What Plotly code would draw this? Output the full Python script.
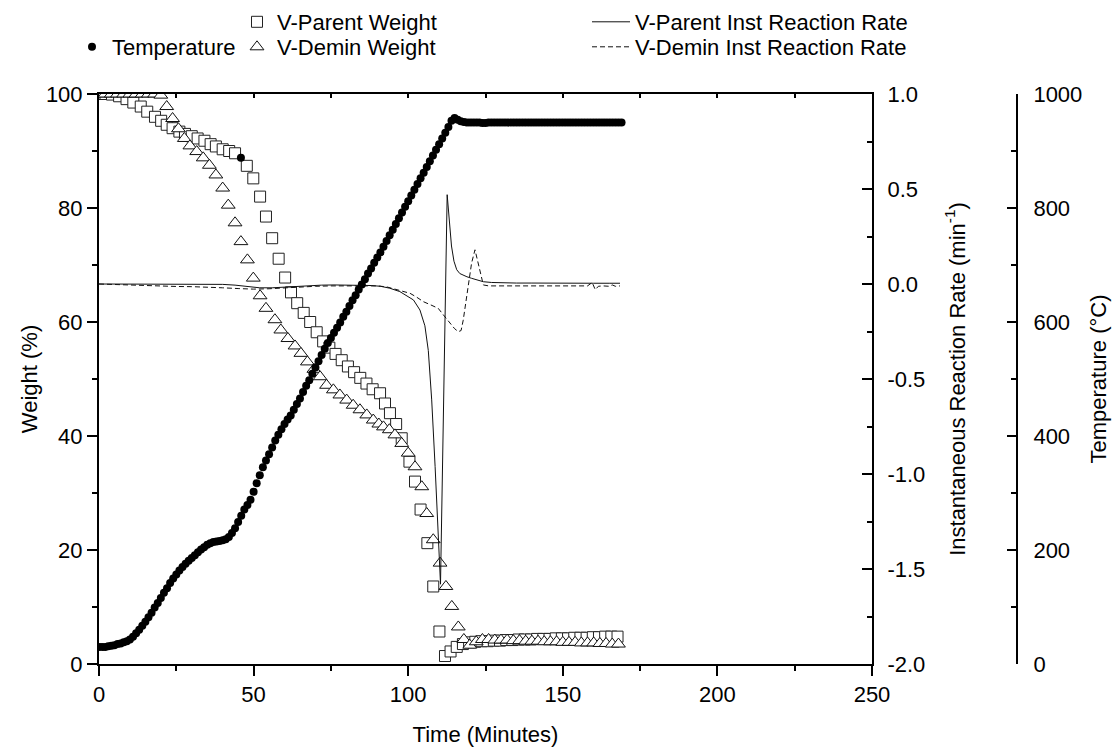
import plotly.graph_objects as go

# ---------------- data ----------------
temp_time = list(range(0, 170))
temp_values = [
    30, 30, 30, 31, 32, 33, 35, 36, 38, 40,
    43, 48, 54, 60, 67, 74, 82, 90, 99, 107,
    116, 125, 133, 142, 150, 157, 164, 170, 176, 181,
    186, 191, 196, 201, 205, 209, 212, 214, 215, 216,
    217, 219, 223, 230, 238, 249, 260, 271, 279, 288,
    302, 317, 331, 345, 357, 368, 380, 392, 402, 412,
    421, 429, 436, 446, 456, 466, 477, 488, 498, 509,
    520, 531, 542, 553, 563, 572, 581, 590, 599, 609,
    618, 628, 638, 647, 657, 666, 675, 685, 694, 704,
    713, 722, 732, 742, 752, 762, 772, 782, 792, 802,
    812, 822, 832, 842, 852, 862, 872, 882, 892, 902,
    912, 922, 932, 942, 953, 958, 955, 952, 951, 950,
    950, 950, 950, 950, 949, 949, 950, 950, 950, 950,
    950, 950, 950, 950, 950, 950, 950, 950, 950, 950,
    950, 950, 950, 950, 950, 950, 950, 950, 950, 950,
    950, 950, 950, 950, 950, 950, 950, 950, 950, 950,
    950, 950, 950, 950, 950, 950, 950, 950, 950, 950,
]

# a single filled point seen near the parent-weight squares
odd_point_time = [45.9]
odd_point_weight = [88.8]

parent_time = [
    0, 2.1, 4.2, 6.5, 8.9, 11.1, 13.5, 15.6, 18.1, 20.1,
    21.9, 23.8, 26.0, 27.8, 30.0, 31.9, 34.1, 36.1, 37.8, 40.0,
    42.1, 44.0, 47.8, 49.9, 52.1, 54.0, 56.0, 58.1, 60.2, 62.1,
    64.1, 66.2, 68.3, 70.4, 72.5, 74.5, 76.5, 78.5, 80.5, 82.5,
    84.5, 86.5, 88.5, 90.9, 92.5, 94.1, 96.1, 97.9, 100.4, 102.2,
    104.0, 106.2, 108.1, 110.1, 111.9, 113.7, 115.7, 117.7, 119.7, 121.7,
    123.7, 125.7, 127.7, 129.7, 131.7, 133.7, 135.7, 137.7, 139.7, 141.7,
    143.7, 145.7, 147.7, 149.7, 151.7, 153.7, 155.7, 157.7, 159.7, 161.7,
    163.7, 165.7, 167.7,
]
parent_weight = [
    100, 100, 99.9, 99.6, 99.1, 98.5, 97.8, 96.9, 96.0, 95.3,
    94.6, 94.0, 93.4, 93.0, 92.6, 92.2, 91.8, 91.2, 90.8, 90.3,
    90.0, 89.6, 87.4, 85.2, 82.0, 78.5, 74.7, 71.1, 67.8, 65.2,
    63.3, 61.6, 60.0, 58.2, 56.6, 55.5, 54.4, 53.3, 52.2, 51.2,
    50.2, 49.2, 48.2, 47.5, 45.7, 44.0, 42.1, 39.6, 35.5, 32.0,
    27.1, 21.2, 13.6, 5.7, 1.4, 2.2, 3.0, 3.5, 3.8, 3.9,
    4.0, 4.0, 4.1, 4.1, 4.2, 4.2, 4.3, 4.3, 4.3, 4.4,
    4.4, 4.4, 4.5, 4.5, 4.5, 4.6, 4.6, 4.6, 4.7, 4.7,
    4.8, 4.8, 4.8,
]

demin_time = [
    0, 2, 4, 6, 8, 10, 12, 14, 16, 18,
    20, 21.9, 23.8, 25.7, 27.6, 29.4, 31.6, 33.7, 35.7, 37.8,
    40.0, 41.8, 44.0, 45.9, 48.0, 49.9, 52.1, 54.0, 56.9, 58.8,
    61.1, 63.4, 65.3, 67.4, 69.5, 71.5, 73.6, 75.8, 77.9, 80.1,
    82.2, 84.4, 86.6, 88.7, 90.5, 92.0, 93.9, 95.7, 97.9, 100.0,
    102.2, 104.4, 106.0, 108.1, 110.3, 112.2, 114.1, 116.2, 118.0, 119.9,
    122.0, 124.0, 126.0, 128.0, 130.0, 132.0, 134.0, 136.0, 138.0, 140.0,
    142.0, 144.0, 146.0, 148.0, 150.0, 152.0, 154.0, 156.0, 158.0, 160.0,
    162.0, 164.0, 166.0, 168.0,
]
demin_weight = [
    100, 100, 100, 100, 100, 100, 100, 100, 100, 100,
    99.8, 97.8, 95.7, 93.9, 92.2, 90.9, 89.9, 88.8, 87.5, 85.8,
    83.5, 80.5, 77.4, 74.1, 70.9, 67.7, 64.6, 62.4, 60.4, 58.6,
    57.1, 55.8, 54.5, 53.0, 51.7, 50.4, 48.9, 48.1, 47.2, 46.3,
    45.4, 44.6, 43.7, 42.8, 42.1, 41.6, 41.1, 40.2, 38.7, 37.0,
    34.6, 31.1, 26.4, 21.8, 17.7, 13.6, 10.1, 6.5, 4.3, 3.3,
    3.9, 4.3, 4.3, 4.2, 4.2, 4.2, 4.1, 4.1, 4.0, 4.0,
    4.0, 3.9, 3.9, 3.9, 3.8, 3.8, 3.8, 3.7, 3.7, 3.7,
    3.6, 3.6, 3.5, 3.5,
]

parent_rate_time = [
    0, 5, 10, 15, 20, 25, 30, 35, 40, 44,
    48, 52, 56, 60, 64, 68, 72, 76, 80, 84,
    88, 91, 94, 97.3, 99.5, 101.7, 103.8, 105.4, 106.5, 107.6,
    108.7, 109.7, 110.45, 112.6, 113.3, 114.0, 114.8, 115.7, 116.7, 117.8,
    119.0, 120.5, 122.2, 124.3, 127, 130, 135, 140, 145, 150,
    155, 160, 165, 168.5,
]
parent_rate = [
    0.0, 0.0, 0.0, 0.0, 0.0, 0.0, 0.0, 0.0, -0.002, -0.006,
    -0.014, -0.02, -0.02, -0.016, -0.011, -0.008, -0.006, -0.005, -0.005, -0.005,
    -0.008, -0.012, -0.022, -0.04, -0.06, -0.084, -0.137, -0.22, -0.35, -0.61,
    -0.96, -1.31, -1.58, 0.47, 0.33, 0.2, 0.12, 0.075, 0.055, 0.045,
    0.038, 0.03, 0.022, 0.012, 0.008, 0.006, 0.005, 0.005, 0.004, 0.004,
    0.004, 0.004, 0.004, 0.004,
]

demin_rate_time = [
    0, 5, 10, 15, 20, 25, 30, 35, 40, 45,
    50, 55, 60, 65, 70, 75, 80, 85, 90, 93,
    96.3, 98.5, 100.6, 102.8, 104.9, 107.3, 109.7, 111.4, 113.5, 115.0,
    116.2, 117.1, 117.8, 118.7, 119.4, 120.5, 121.6, 122.4, 123.2, 124.3,
    126, 130, 135, 140, 145, 150, 155, 158, 159.5, 160.5,
    161.5, 163, 165, 166, 167, 168.5,
]
demin_rate = [
    0.0, -0.003, -0.006, -0.01, -0.012, -0.013, -0.014, -0.016, -0.02, -0.024,
    -0.027, -0.025, -0.02, -0.015, -0.012, -0.01, -0.01, -0.01, -0.01, -0.015,
    -0.028, -0.038, -0.049, -0.07, -0.093, -0.11, -0.128, -0.163, -0.207, -0.235,
    -0.251, -0.245, -0.19, -0.084, 0.0, 0.11, 0.18, 0.126, 0.056, -0.005,
    -0.01, -0.01, -0.01, -0.01, -0.01, -0.012, -0.012, -0.01, 0.008, -0.03,
    -0.012, -0.01, -0.012, -0.005, -0.012, -0.01,
]

x_ticks = [0, 50, 100, 150, 200, 250]
x_ticktext = ["0", "50", "100", "150", "200", "250"]
w_ticks = [0, 20, 40, 60, 80, 100]
w_ticktext = ["0", "20", "40", "60", "80", "100"]
r_ticks = [-2.0, -1.5, -1.0, -0.5, 0.0, 0.5, 1.0]
r_ticktext = ["-2.0", "-1.5", "-1.0", "-0.5", "0.0", "0.5", "1.0"]
t_ticks = [0, 200, 400, 600, 800, 1000]
t_ticktext = ["0", "200", "400", "600", "800", "1000"]

# ---------------- figure ----------------
FONT = "Arial, 'Liberation Sans', sans-serif"
FS = 22
W, H = 1120, 749
ML, MR, MT, MB = 99, 103, 94, 85
plot_w = W - ML - MR
plot_h = H - MT - MB
x_dom_end = (872 - ML) / plot_w
ROW1, ROW2 = 22, 47


def px_x(px):
    return (px - ML) / plot_w


def cont_y(py):
    return 1 - py / H


fig = go.Figure()

fig.add_trace(go.Scatter(
    x=parent_time, y=parent_weight, mode="markers", name="V-Parent Weight",
    marker=dict(symbol="square", size=11, color="white",
                line=dict(color="#222222", width=1)),
    xaxis="x", yaxis="y", legend="legend2",
))
fig.add_trace(go.Scatter(
    x=demin_time, y=demin_weight, mode="markers", name="V-Demin Weight",
    marker=dict(symbol="triangle-up", size=12, color="white",
                line=dict(color="#111111", width=1)),
    xaxis="x", yaxis="y", legend="legend3",
))
fig.add_trace(go.Scatter(
    x=odd_point_time, y=odd_point_weight, mode="markers", showlegend=False,
    marker=dict(symbol="circle", size=8, color="black"),
    xaxis="x", yaxis="y",
))
fig.add_trace(go.Scatter(
    x=parent_rate_time, y=parent_rate, mode="lines",
    name="V-Parent Inst Reaction Rate",
    line=dict(color="#111111", width=1),
    xaxis="x", yaxis="y2", legend="legend4",
))
fig.add_trace(go.Scatter(
    x=demin_rate_time, y=demin_rate, mode="lines",
    name="V-Demin Inst Reaction Rate",
    line=dict(color="#111111", width=1, dash="5px,3px"),
    xaxis="x", yaxis="y2", legend="legend5",
))
fig.add_trace(go.Scatter(
    x=temp_time, y=temp_values, mode="markers", name="Temperature",
    marker=dict(symbol="circle", size=8, color="black"),
    xaxis="x2", yaxis="y3", legend="legend",
))

axis_common = dict(showgrid=False, zeroline=False, showline=True,
                   linecolor="black", linewidth=2, tickcolor="black",
                   tickwidth=2, automargin=False,
                   tickfont=dict(family=FONT, size=FS, color="black"))

legend_common = dict(xref="paper", yref="container", xanchor="left",
                     yanchor="middle", bgcolor="rgba(0,0,0,0)",
                     borderwidth=0, orientation="v",
                     font=dict(family=FONT, size=FS, color="black"))

fig.update_layout(
    template="none",
    width=W, height=H, autosize=False,
    margin=dict(l=ML, r=MR, t=MT, b=MB, pad=0),
    paper_bgcolor="white", plot_bgcolor="white",
    font=dict(family=FONT, size=FS, color="black"),
    xaxis=dict(
        **axis_common, domain=[0, x_dom_end], range=[0, 250], anchor="y",
        tickmode="array", tickvals=x_ticks, ticktext=x_ticktext,
        ticks="outside", ticklen=10, ticklabelstandoff=0,
        minor=dict(dtick=25, tick0=0, ticks="outside", ticklen=5,
                   tickwidth=2, tickcolor="black"),
        title=dict(text="Time (Minutes)", font=dict(family=FONT, size=FS),
                   standoff=20),
    ),
    xaxis2=dict(
        **axis_common, domain=[0, x_dom_end], range=[0, 250], anchor="y",
        overlaying="x", side="top", showticklabels=False,
        tickmode="linear", tick0=0, dtick=25, ticks="inside", ticklen=4,
    ),
    yaxis=dict(
        **axis_common, range=[0, 100], anchor="x",
        tickmode="array", tickvals=w_ticks, ticktext=w_ticktext,
        ticks="outside", ticklen=10, ticklabelstandoff=0,
        minor=dict(dtick=10, tick0=0, ticks="outside", ticklen=5,
                   tickwidth=2, tickcolor="black"),
        title=dict(text="Weight (%)", font=dict(family=FONT, size=FS),
                   standoff=2),
    ),
    yaxis2=dict(
        **axis_common, range=[-2, 1], anchor="x", overlaying="y", side="right",
        tickmode="array", tickvals=r_ticks, ticktext=r_ticktext,
        ticks="inside", ticklen=10, ticklabelstandoff=9,
        minor=dict(dtick=0.25, tick0=0, ticks="inside", ticklen=5,
                   tickwidth=2, tickcolor="black"),
        title=dict(text="Instantaneous Reaction Rate (min<sup>-1</sup>)",
                   font=dict(family=FONT, size=FS), standoff=25),
    ),
    yaxis3=dict(
        **axis_common, range=[0, 1000], anchor="free", position=1.0,
        overlaying="y", side="right",
        tickmode="array", tickvals=t_ticks, ticktext=t_ticktext,
        ticks="inside", ticklen=9, ticklabelstandoff=11,
        minor=dict(dtick=100, tick0=0, ticks="inside", ticklen=5,
                   tickwidth=2, tickcolor="black"),
        title=dict(text="Temperature (°C)", font=dict(family=FONT, size=FS),
                   standoff=8),
    ),
    legend=dict(**legend_common, x=px_x(72), y=cont_y(ROW2)),
    legend2=dict(**legend_common, x=px_x(237), y=cont_y(ROW1)),
    legend3=dict(**legend_common, x=px_x(237), y=cont_y(ROW2)),
    legend4=dict(**legend_common, x=px_x(587), y=cont_y(ROW1), itemwidth=38),
    legend5=dict(**legend_common, x=px_x(587), y=cont_y(ROW2), itemwidth=38),
)

fig.write_html("out.html")
